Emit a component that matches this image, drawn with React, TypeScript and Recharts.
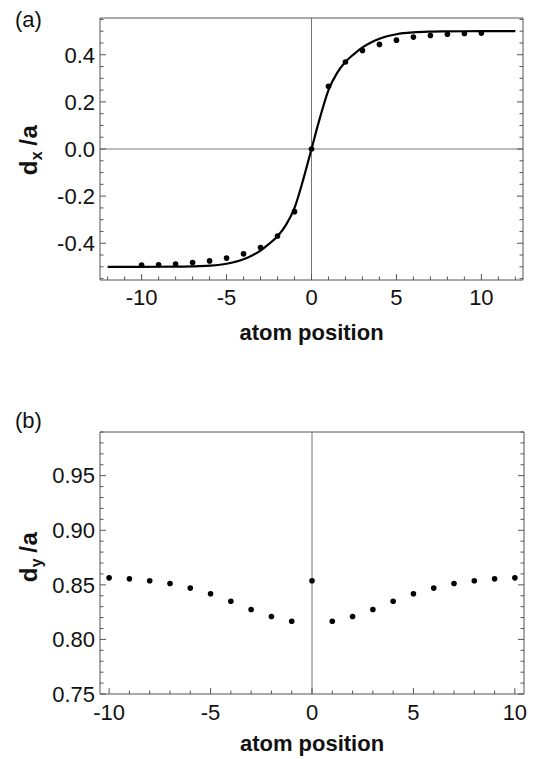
import React from 'react';
import { ComposedChart, Line, Scatter, XAxis, YAxis, ReferenceLine } from 'recharts';

// panel (a): measured atom shifts and the fitted kink curve
const atomPos = [-10, -9, -8, -7, -6, -5, -4, -3, -2, -1, 0, 1, 2, 3, 4, 5, 6, 7, 8, 9, 10];
const dxValues = [-0.493, -0.491, -0.488, -0.482, -0.475, -0.463, -0.445, -0.418, -0.369, -0.266, 0, 0.266, 0.369, 0.418, 0.444, 0.462, 0.475, 0.482, 0.487, 0.49, 0.492];
const curveX = [-12, -10, -8, -7, -6, -5, -4, -3.5, -3, -2.5, -2, -1.5, -1, -0.5, 0, 0.5, 1, 1.5, 2, 2.5, 3, 3.5, 4, 5, 6, 7, 8, 10, 12];
const curveDx = [-0.5, -0.5, -0.499, -0.498, -0.495, -0.487, -0.468, -0.452, -0.431, -0.403, -0.37, -0.322, -0.25, -0.133, 0, 0.133, 0.25, 0.322, 0.37, 0.403, 0.431, 0.452, 0.468, 0.487, 0.495, 0.498, 0.499, 0.5, 0.5];

// panel (b)
const dyValues = [0.8564, 0.8555, 0.8537, 0.8512, 0.847, 0.8418, 0.835, 0.8274, 0.821, 0.8167, 0.8537, 0.8167, 0.821, 0.8274, 0.835, 0.8418, 0.847, 0.8512, 0.8537, 0.8555, 0.8564];

const xMajorA = [-10, -5, 0, 5, 10];
const yMajorA = [-0.4, -0.2, 0, 0.2, 0.4];
const xMajorB = [-10, -5, 0, 5, 10];
const yMajorB = [0.75, 0.8, 0.85, 0.9, 0.95];

const range = (a: number, b: number, step: number) => {
  const out: number[] = [];
  const n = Math.round((b - a) / step);
  for (let i = 0; i <= n; i++) out.push(+(a + i * step).toFixed(6));
  return out;
};

const scatterA = atomPos.map((x, i) => ({ x, y: dxValues[i] }));
const curveA = curveX.map((x, i) => ({ x, y: curveDx[i] }));
const scatterB = atomPos.map((x, i) => ({ x, y: dyValues[i] }));

const FRAME = '#555';
const FONT = '"Liberation Sans", Arial, Helvetica, sans-serif';

const isMajor = (majors: number[], v: number) => majors.some((m) => Math.abs(m - v) < 1e-9);

const makeTick =
  (side: 'bottom' | 'top' | 'left' | 'right', majors: number[], fmt?: (v: number) => string, labelGap = 25) =>
  (props: any) => {
    const { x, y, payload } = props;
    const v = payload.value;
    const major = isMajor(majors, v);
    const len = major ? 6 : 3.5;
    let line;
    if (side === 'bottom') line = <line x1={x} y1={y} x2={x} y2={y - len} stroke={FRAME} />;
    else if (side === 'top') line = <line x1={x} y1={y} x2={x} y2={y + len} stroke={FRAME} />;
    else if (side === 'left') line = <line x1={x} y1={y} x2={x + len} y2={y} stroke={FRAME} />;
    else line = <line x1={x} y1={y} x2={x - len} y2={y} stroke={FRAME} />;
    let label = null;
    if (major && fmt && side === 'bottom') {
      label = (
        <text x={x} y={y + labelGap} textAnchor="middle" fontSize={22} fontFamily={FONT} fill="#111">
          {fmt(v)}
        </text>
      );
    }
    if (major && fmt && side === 'left') {
      label = (
        <text x={x - 5} y={y + 7.8} textAnchor="end" fontSize={22} fontFamily={FONT} fill="#111">
          {fmt(v)}
        </text>
      );
    }
    return (
      <g>
        {line}
        {label}
      </g>
    );
  };

const xLabel = (gap: number) => (p: any) => {
  const vb = p.viewBox;
  return (
    <text x={vb.x + vb.width / 2} y={vb.y + gap} textAnchor="middle" fontSize={22} fontWeight="bold" fontFamily={FONT} fill="#111">
      atom position
    </text>
  );
};

const yLabel = (sub: string, shift: number) => (p: any) => {
  const vb = p.viewBox;
  const cx = 37;
  const cy = vb.y + vb.height / 2 + shift;
  return (
    <text
      x={cx}
      y={cy}
      transform={`rotate(-90, ${cx}, ${cy})`}
      textAnchor="middle"
      fontSize={24}
      fontWeight="bold"
      fontFamily={FONT}
      fill="#111"
      letterSpacing={0.5}
    >
      d
      <tspan fontSize={16} dy={5}>{sub}</tspan>
      <tspan dy={-5} dx={5}>/a</tspan>
    </text>
  );
};

const dot = (p: any) => <circle cx={p.cx} cy={p.cy} r={2.8} fill="#000" />;

const fmt1 = (v: number) => v.toFixed(1);
const fmt2 = (v: number) => v.toFixed(2);
const fmtInt = (v: number) => String(Math.round(v));

const App = () => {
  const xDomA: [number, number] = [-12.45, 12.45];
  const yDomA: [number, number] = [-0.556, 0.556];
  const xTicksA = range(-12, 12, 1);
  const yTicksA = range(-0.55, 0.55, 0.05);

  const xDomB: [number, number] = [-10.45, 10.45];
  const yDomB: [number, number] = [0.75, 0.99];
  const xTicksB = range(-10, 10, 1);
  const yTicksB = range(0.75, 0.99, 0.01);

  return (
    <div style={{ position: 'absolute', left: 0, top: 0, width: 538, height: 759, background: '#fff', fontFamily: FONT }}>
      <svg width={538} height={759} style={{ position: 'absolute', left: 0, top: 0 }}>
        <text x={15} y={27} fontSize={22} fontFamily={FONT} fill="#111">(a)</text>
        <text x={15} y={428} fontSize={22} fontFamily={FONT} fill="#111">(b)</text>
      </svg>

      <div style={{ position: 'absolute', left: 0, top: 0 }}>
        <ComposedChart width={538} height={380} margin={{ top: 17, right: 14, bottom: 40, left: 0 }}>
          <XAxis
            dataKey="x"
            type="number"
            domain={xDomA}
            allowDataOverflow
            ticks={xTicksA}
            interval={0}
            tickSize={0}
            tickMargin={0}
            tickLine={false}
            axisLine={{ stroke: FRAME }}
            tick={makeTick('bottom', xMajorA, fmtInt, 25)}
            height={60}
            label={{ content: xLabel(60) }}
          />
          <XAxis
            xAxisId="top"
            orientation="top"
            type="number"
            domain={xDomA}
            allowDataOverflow
            ticks={xTicksA}
            interval={0}
            tickSize={0}
            tickMargin={0}
            tickLine={false}
            axisLine={{ stroke: FRAME }}
            tick={makeTick('top', xMajorA)}
            height={1}
          />
          <YAxis
            dataKey="y"
            type="number"
            domain={yDomA}
            allowDataOverflow
            ticks={yTicksA}
            interval={0}
            tickSize={0}
            tickMargin={0}
            tickLine={false}
            axisLine={{ stroke: FRAME }}
            tick={makeTick('left', yMajorA, fmt1)}
            width={100}
            label={{ content: yLabel('x', 1) }}
          />
          <YAxis
            yAxisId="right"
            orientation="right"
            type="number"
            domain={yDomA}
            allowDataOverflow
            ticks={yTicksA}
            interval={0}
            tickSize={0}
            tickMargin={0}
            tickLine={false}
            axisLine={{ stroke: FRAME }}
            tick={makeTick('right', yMajorA)}
            width={1}
          />
          <ReferenceLine x={0} stroke="#777" strokeWidth={1} />
          <ReferenceLine y={0} stroke="#777" strokeWidth={1} />
          <Line data={curveA} dataKey="y" type="monotone" stroke="#000" strokeWidth={2.2} dot={false} isAnimationActive={false} />
          <Scatter data={scatterA} dataKey="y" shape={dot} isAnimationActive={false} />
        </ComposedChart>
      </div>

      <div style={{ position: 'absolute', left: 0, top: 380 }}>
        <ComposedChart width={538} height={379} margin={{ top: 51, right: 13, bottom: 5, left: 0 }}>
          <XAxis
            dataKey="x"
            type="number"
            domain={xDomB}
            allowDataOverflow
            ticks={xTicksB}
            interval={0}
            tickSize={0}
            tickMargin={0}
            tickLine={false}
            axisLine={{ stroke: FRAME }}
            tick={makeTick('bottom', xMajorB, fmtInt, 26)}
            height={60}
            label={{ content: xLabel(57) }}
          />
          <XAxis
            xAxisId="top"
            orientation="top"
            type="number"
            domain={xDomB}
            allowDataOverflow
            ticks={xTicksB}
            interval={0}
            tickSize={0}
            tickMargin={0}
            tickLine={false}
            axisLine={{ stroke: FRAME }}
            tick={makeTick('top', xMajorB)}
            height={1}
          />
          <YAxis
            dataKey="y"
            type="number"
            domain={yDomB}
            allowDataOverflow
            ticks={yTicksB}
            interval={0}
            tickSize={0}
            tickMargin={0}
            tickLine={false}
            axisLine={{ stroke: FRAME }}
            tick={makeTick('left', yMajorB, fmt2)}
            width={100}
            label={{ content: yLabel('y', -6) }}
          />
          <YAxis
            yAxisId="right"
            orientation="right"
            type="number"
            domain={yDomB}
            allowDataOverflow
            ticks={yTicksB}
            interval={0}
            tickSize={0}
            tickMargin={0}
            tickLine={false}
            axisLine={{ stroke: FRAME }}
            tick={makeTick('right', yMajorB)}
            width={1}
          />
          <ReferenceLine x={0} stroke="#777" strokeWidth={1} />
          <Scatter data={scatterB} dataKey="y" shape={dot} isAnimationActive={false} />
        </ComposedChart>
      </div>
    </div>
  );
};

export default App;
